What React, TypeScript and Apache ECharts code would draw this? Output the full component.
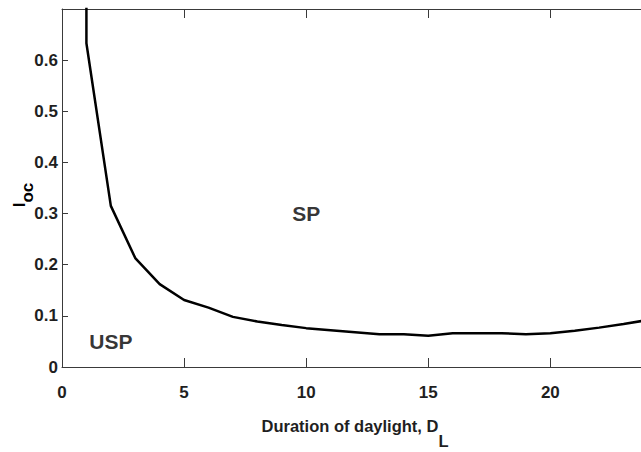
import React, { useEffect, useRef } from "react";
import * as echarts from "echarts";

// Duration of daylight (x) and critical I_oc values (y) along the boundary curve
const daylight = [1, 1, 2, 3, 4, 5, 6, 7, 8, 9, 10, 11, 12, 13, 14, 15, 16, 17, 18, 19, 20, 21, 22, 23, 24];
const iocValues = [1.0, 0.633, 0.315, 0.213, 0.162, 0.131, 0.116, 0.098, 0.089, 0.082, 0.076, 0.072, 0.068, 0.064, 0.064, 0.061, 0.066, 0.066, 0.066, 0.064, 0.066, 0.071, 0.077, 0.084, 0.092];

// Region annotations
const regionNames = ["SP", "USP"];
const regionX = [10, 2];
const regionY = [0.3, 0.05];

// Axis settings
const xTickLabels = [0, 5, 10, 15, 20];
const yTickLabels = [0, 0.1, 0.2, 0.3, 0.4, 0.5, 0.6];

const FONT = '"Liberation Sans Narrow", "Liberation Sans", Arial, sans-serif';
const AXIS_COLOR = "#3a3a3a";
const TEXT_COLOR = "#1f1f1f";

export default function App() {
  const ref = useRef<HTMLDivElement>(null);

  useEffect(() => {
    if (!ref.current) return;
    const chart = echarts.init(ref.current, undefined, { renderer: "svg" });

    const lineData = daylight.map((x, i) => [x, iocValues[i]]);
    const regionData = regionNames.map((n, i) => [regionX[i], regionY[i], n]);

    const axisLine = { show: true, lineStyle: { color: AXIS_COLOR, width: 1 } };
    const labelStyle = {
      fontFamily: FONT,
      fontWeight: "bold" as const,
      fontSize: 17,
      color: TEXT_COLOR,
    };

    chart.setOption({
      animation: false,
      backgroundColor: "#ffffff",
      grid: { left: 62, right: 12, top: 9, bottom: 85, outerBoundsMode: "none", containLabel: false },
      xAxis: [
        {
          type: "value",
          position: "bottom",
          min: 0,
          max: 24,
          interval: 5,
          axisLine,
          axisTick: {
            show: true,
            inside: true,
            length: 9,
            lineStyle: { color: AXIS_COLOR },
            customValues: xTickLabels,
          },
          axisLabel: { ...labelStyle, margin: 17, customValues: xTickLabels },
          splitLine: { show: false },
          name: "{m|Duration of daylight, D}{s|L}",
          nameLocation: "middle",
          nameGap: 50,
          nameTextStyle: {
            rich: {
              m: { ...labelStyle, fontSize: 16.5, lineHeight: 17, verticalAlign: "top" },
              s: { ...labelStyle, fontSize: 16.5, lineHeight: 32, verticalAlign: "bottom" },
            },
          },
        },
        {
          type: "value",
          position: "top",
          min: 0,
          max: 24,
          interval: 5,
          axisLine,
          axisTick: {
            show: true,
            inside: true,
            length: 9,
            lineStyle: { color: AXIS_COLOR },
            customValues: xTickLabels,
          },
          axisLabel: { show: false },
          splitLine: { show: false },
        },
      ],
      yAxis: [
        {
          type: "value",
          min: 0,
          max: 0.7,
          interval: 0.1,
          axisLine,
          axisTick: {
            show: true,
            inside: true,
            length: 6,
            lineStyle: { color: AXIS_COLOR },
            customValues: yTickLabels,
          },
          axisLabel: {
            ...labelStyle,
            margin: 4,
            customValues: yTickLabels,
            formatter: (v: number) => (v === 0 ? "0" : String(Math.round(v * 10) / 10)),
          },
          splitLine: { show: false },
        },
      ],
      graphic: [
        {
          type: "text",
          x: 23,
          y: 195,
          rotation: Math.PI / 2,
          style: {
            text: "{i|I}{s|oc}",
            align: "center",
            verticalAlign: "middle",
            rich: {
              i: { ...labelStyle, fontSize: 17, lineHeight: 17, verticalAlign: "top" },
              s: { ...labelStyle, fontSize: 17, lineHeight: 25, verticalAlign: "bottom" },
            },
          },
        },
      ],
      series: [
        {
          type: "line",
          xAxisIndex: 0,
          yAxisIndex: 0,
          data: lineData,
          showSymbol: false,
          symbol: "none",
          clip: true,
          lineStyle: { color: "#000000", width: 2.5 },
        },
        {
          type: "scatter",
          xAxisIndex: 0,
          yAxisIndex: 0,
          data: regionData,
          symbolSize: 1,
          itemStyle: { color: "transparent" },
          label: {
            show: true,
            position: "inside",
            formatter: (p: any) => p.data[2],
            fontFamily: FONT,
            fontWeight: "bold",
            fontSize: 21,
            color: "#000000",
          },
        },
      ],
    });

    return () => chart.dispose();
  }, []);

  return (
    <div
      style={{
        position: "fixed",
        left: 0,
        top: 0,
        width: 641,
        height: 452,
        overflow: "hidden",
        background: "#ffffff",
      }}
    >
      <div ref={ref} style={{ width: 660, height: 452 }} />
    </div>
  );
}
